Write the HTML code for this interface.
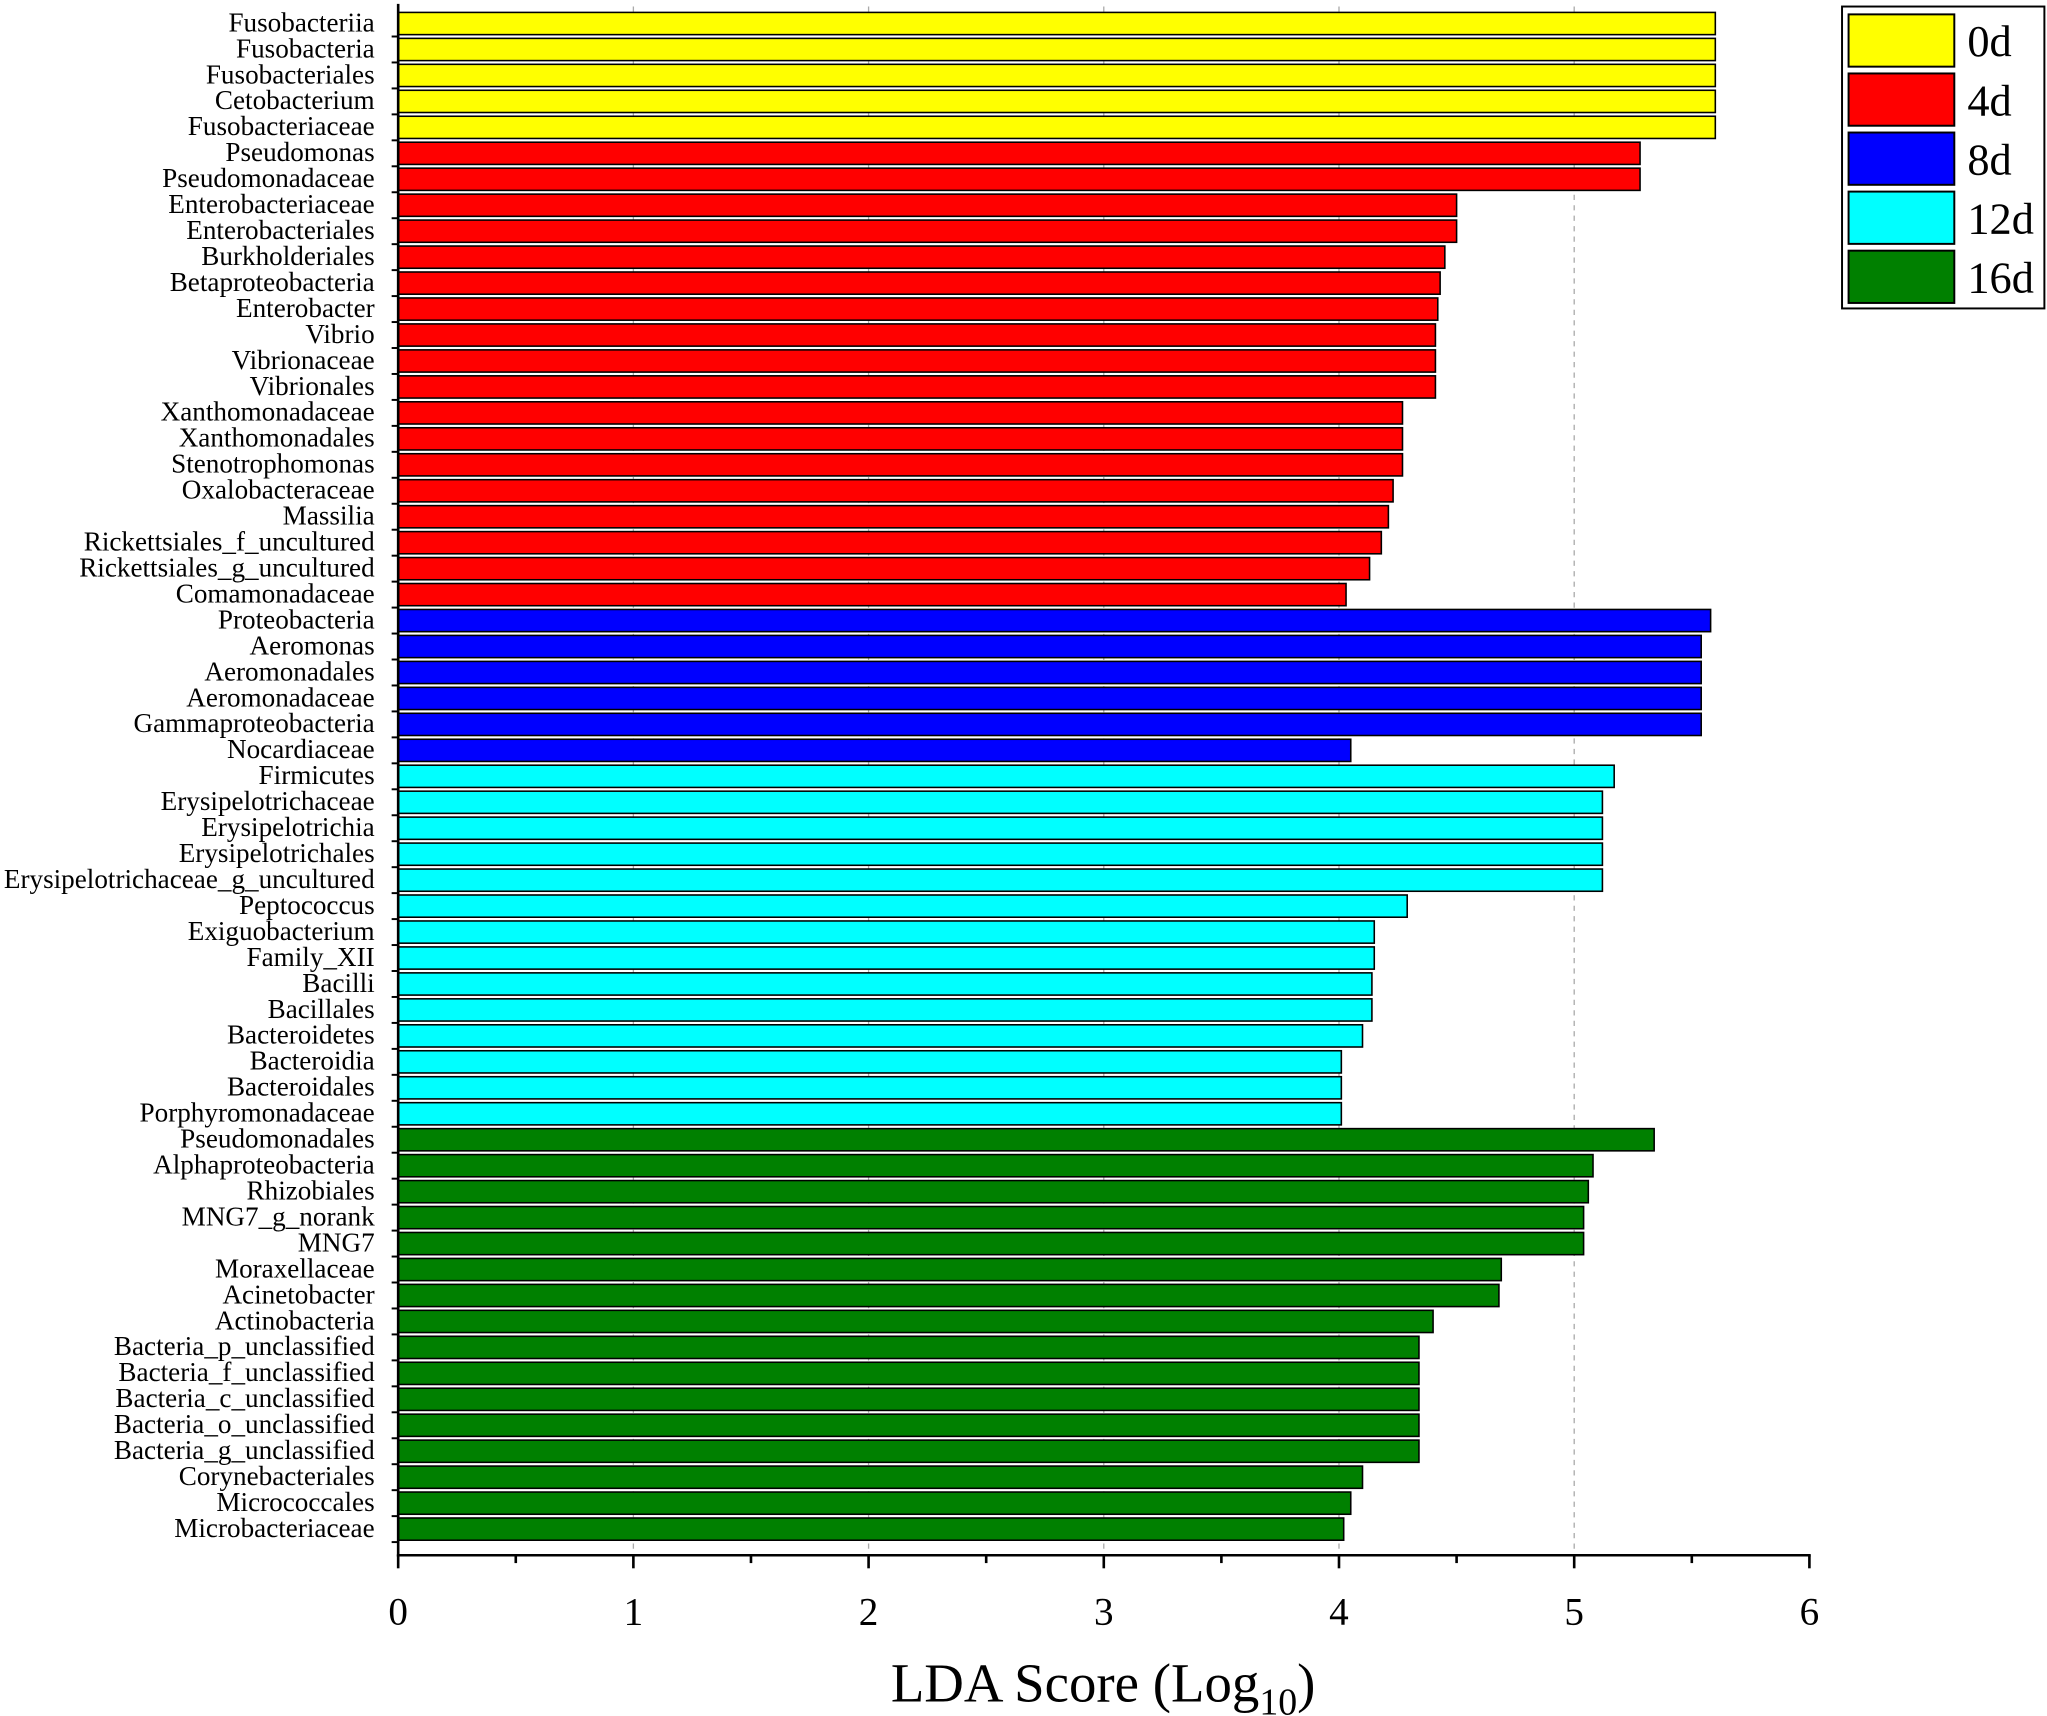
<!DOCTYPE html>
<html><head><meta charset="utf-8"><style>html,body{margin:0;padding:0;background:#fff}svg{display:block}</style></head>
<body>
<svg id="chart" width="2047" height="1716" viewBox="0 0 1568 1313" preserveAspectRatio="none" xmlns="http://www.w3.org/2000/svg" font-family="'Liberation Serif', serif">
<g id="grid"></g><g id="bars"></g><g id="labels"></g><g id="axis"></g><g id="legend"></g>
</svg>
<script>
const taxa=["Fusobacteriia","Fusobacteria","Fusobacteriales","Cetobacterium","Fusobacteriaceae","Pseudomonas","Pseudomonadaceae","Enterobacteriaceae","Enterobacteriales","Burkholderiales","Betaproteobacteria","Enterobacter","Vibrio","Vibrionaceae","Vibrionales","Xanthomonadaceae","Xanthomonadales","Stenotrophomonas","Oxalobacteraceae","Massilia","Rickettsiales_f_uncultured","Rickettsiales_g_uncultured","Comamonadaceae","Proteobacteria","Aeromonas","Aeromonadales","Aeromonadaceae","Gammaproteobacteria","Nocardiaceae","Firmicutes","Erysipelotrichaceae","Erysipelotrichia","Erysipelotrichales","Erysipelotrichaceae_g_uncultured","Peptococcus","Exiguobacterium","Family_XII","Bacilli","Bacillales","Bacteroidetes","Bacteroidia","Bacteroidales","Porphyromonadaceae","Pseudomonadales","Alphaproteobacteria","Rhizobiales","MNG7_g_norank","MNG7","Moraxellaceae","Acinetobacter","Actinobacteria","Bacteria_p_unclassified","Bacteria_f_unclassified","Bacteria_c_unclassified","Bacteria_o_unclassified","Bacteria_g_unclassified","Corynebacteriales","Micrococcales","Microbacteriaceae"];
const scores=[5.60,5.60,5.60,5.60,5.60,5.28,5.28,4.50,4.50,4.45,4.43,4.42,4.41,4.41,4.41,4.27,4.27,4.27,4.23,4.21,4.18,4.13,4.03,5.58,5.54,5.54,5.54,5.54,4.05,5.17,5.12,5.12,5.12,5.12,4.29,4.15,4.15,4.14,4.14,4.10,4.01,4.01,4.01,5.34,5.08,5.06,5.04,5.04,4.69,4.68,4.40,4.34,4.34,4.34,4.34,4.34,4.10,4.05,4.02];
const groups=["0d","0d","0d","0d","0d","4d","4d","4d","4d","4d","4d","4d","4d","4d","4d","4d","4d","4d","4d","4d","4d","4d","4d","8d","8d","8d","8d","8d","8d","12d","12d","12d","12d","12d","12d","12d","12d","12d","12d","12d","12d","12d","12d","16d","16d","16d","16d","16d","16d","16d","16d","16d","16d","16d","16d","16d","16d","16d","16d"];
const legendGroups=["0d","4d","8d","12d","16d"];
const xTicks=[0,1,2,3,4,5,6];
const colors={"0d":"#ffff00","4d":"#ff0000","8d":"#0000ff","12d":"#00ffff","16d":"#008000"};
const NS="http://www.w3.org/2000/svg";
const x0=305,x1=1386,axY=1190;
const xs=v=>x0+(x1-x0)*v/6;
const step=(1170-18)/(taxa.length-1);
const yc=i=>18+i*step;
function mk(tag,attrs,parent){const e=document.createElementNS(NS,tag);for(const k in attrs)e.setAttribute(k,attrs[k]);document.getElementById(parent).appendChild(e);return e;}
xTicks.forEach(t=>{if(t>0&&t<6){const g=mk("line",{x1:xs(t),x2:xs(t),y1:5,y2:axY,stroke:"#aaa","stroke-dasharray":"4,4","stroke-width":1},"grid");

}});
taxa.forEach((n,i)=>{
 const r=mk("rect",{x:x0,y:yc(i)-8.5,width:xs(scores[i])-x0,height:17,fill:colors[groups[i]],stroke:"#000","stroke-width":1.2},"bars");
 
 
 const t=mk("text",{x:287,y:yc(i)+6,"text-anchor":"end","font-size":20.8},"labels");t.textContent=n;
 
 
 const yt=mk("line",{x1:x0-5,x2:x0,y1:yc(i)+step/2,y2:yc(i)+step/2,stroke:"#000","stroke-width":1.5},"axis");
 
 
});
const ya=mk("line",{x1:x0,x2:x0,y1:3,y2:axY+1,stroke:"#000","stroke-width":2},"axis");


const xa=mk("line",{x1:x0-1,x2:x1+1,y1:axY,y2:axY,stroke:"#000","stroke-width":2},"axis");


for(let v=0;v<=6.001;v+=0.5){const maj=Math.abs(v-Math.round(v))<1e-6;
 const tk=mk("line",{x1:xs(v),x2:xs(v),y1:axY,y2:axY+(maj?10:6),stroke:"#000","stroke-width":2},"axis");
 
 }
xTicks.forEach(t=>{const l=mk("text",{x:xs(t),y:1243,"text-anchor":"middle","font-size":30},"axis");l.textContent=t;
 
 });
const ti=mk("text",{x:845,y:1302,"text-anchor":"middle","font-size":42},"axis");
ti.innerHTML='LDA Score (Log<tspan font-size="29" dy="10">10</tspan><tspan dy="-10">)</tspan>';


const lb=mk("rect",{x:1411,y:5,width:155,height:231,fill:"#fff",stroke:"#000","stroke-width":1.5},"legend");


legendGroups.forEach((g,i)=>{
 const s=mk("rect",{x:1416,y:11+i*45.2,width:81,height:40,fill:colors[g],stroke:"#000","stroke-width":1.5},"legend");
 
 
 const t=mk("text",{x:1507,y:43+i*45.2,"font-size":34},"legend");t.textContent=g;
 
 
});
</script>
</body></html>
